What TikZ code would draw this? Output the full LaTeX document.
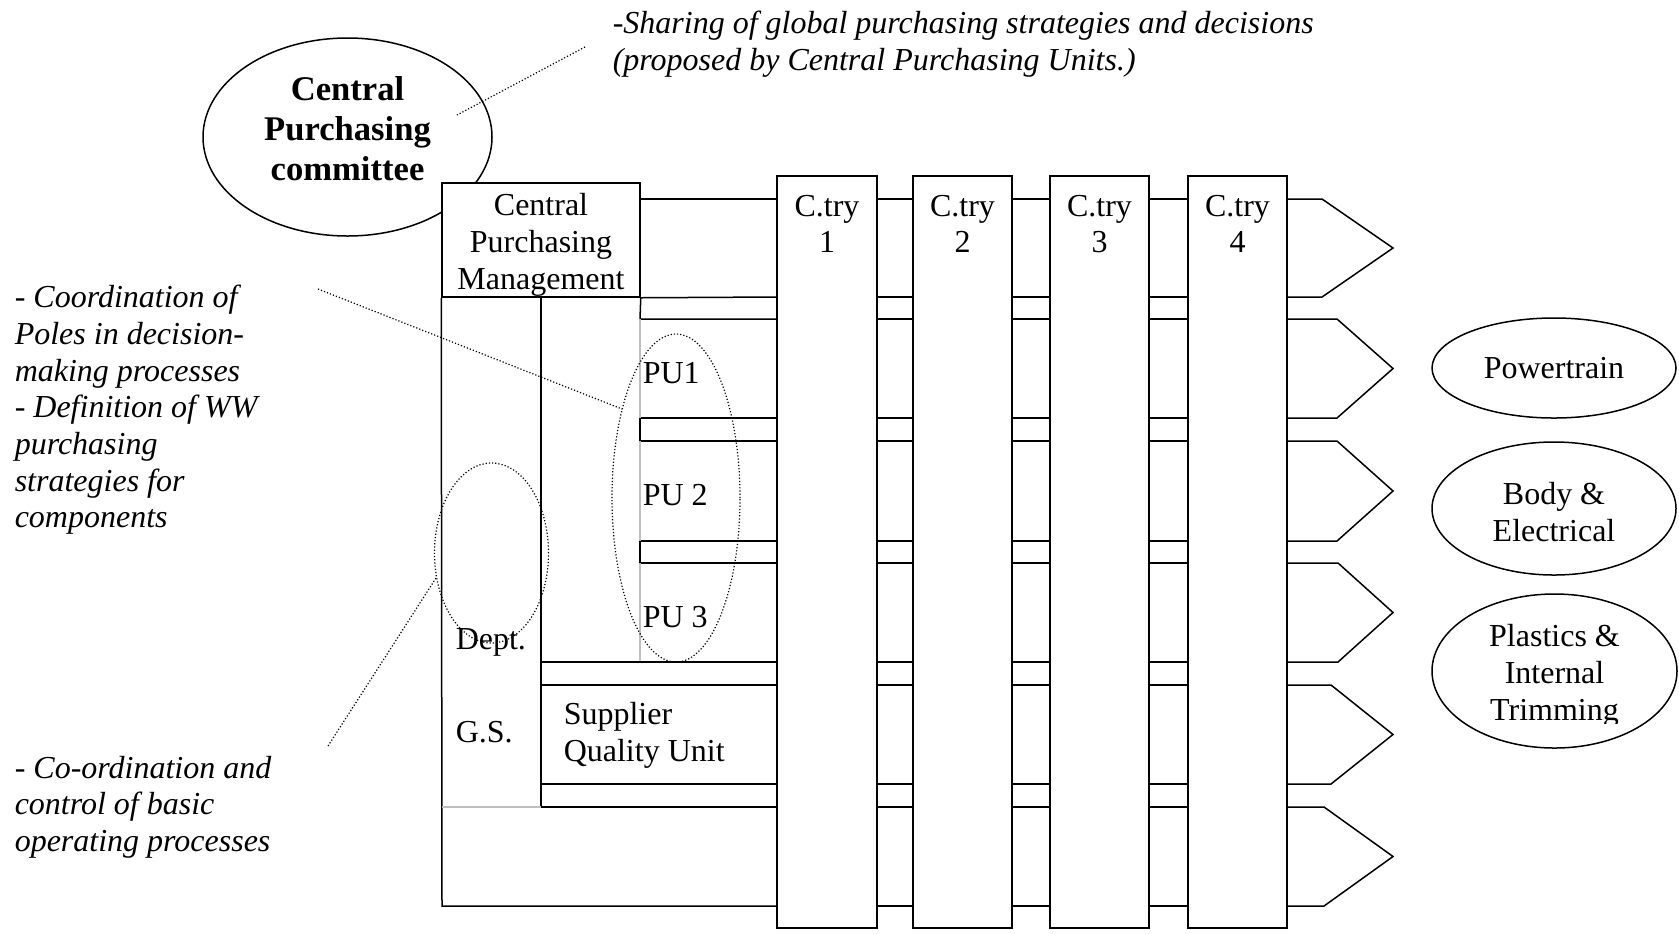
\documentclass[tikz,border=0pt]{standalone}
\usepackage{fontspec}
\setmainfont{Liberation Serif}
\usetikzlibrary{shapes.geometric}

\begin{document}
\begin{tikzpicture}[x=0.5pt,y=-0.5pt,line width=0.75pt,
  txt/.style={font=\fontsize{16}{18.35}\selectfont, inner sep=0pt, align=center},
  note/.style={font=\fontsize{16}{18.35}\selectfont\itshape, inner sep=0pt, align=left, anchor=west},
  boxed/.style={draw, rectangle, inner sep=0pt},
  oval/.style={draw, ellipse, inner sep=0pt},
  dots/.style={line width=0.6pt, dash pattern=on 0.6pt off 1pt},
  grayline/.style={draw=black!25, line width=0.75pt}]
\useasboundingbox (0,0) rectangle (1679,933);

% committee oval, partly covered by the management box
\node[oval, minimum width=144.5pt, minimum height=99pt] (cpc) at (347.5,137) {};
\node[txt, font=\fontsize{17.3}{20}\selectfont\bfseries] (cpct) at (347.5,129) {Central\\Purchasing\\committee};

% country columns
\node[boxed, minimum width=50pt, minimum height=376pt] (c1) at (827,552) {};
\node[boxed, minimum width=49.5pt, minimum height=376pt] (c2) at (962.5,552) {};
\node[boxed, minimum width=49.5pt, minimum height=376pt] (c3) at (1099.5,552) {};
\node[boxed, minimum width=49.5pt, minimum height=376pt] (c4) at (1237.5,552) {};
\node[txt] (c1t) at (c1.center |- 0,224) {C.try\\1};
\node[txt] (c2t) at (c2.center |- 0,224) {C.try\\2};
\node[txt] (c3t) at (c3.center |- 0,224) {C.try\\3};
\node[txt] (c4t) at (c4.center |- 0,224) {C.try\\4};

% band edges running through the gaps between the columns
\foreach \y in {199,297,319,418,441,541,563,662,685,784,807,906} {
  \draw (c1.east |- 0,\y) -- (c2.west |- 0,\y);
  \draw (c2.east |- 0,\y) -- (c3.west |- 0,\y);
  \draw (c3.east |- 0,\y) -- (c4.west |- 0,\y);
}

% arrow heads of the bands
\foreach \t/\u/\s in {199/297/1322, 319/418/1337, 441/541/1337, 563/662/1338, 685/784/1331, 807/906/1324}
  \draw (c4.east |- 0,\t) -- (\s,\t) -- (1393,{(\t+\u)/2}) -- (\s,\u) -- (c4.east |- 0,\u);

% central purchasing management and the left-hand structure
\node[boxed, fill=white, minimum width=99pt, minimum height=57pt] (cpm) at (541,240) {};
\node[txt] (cpmt) at (541,245) {Central\\Purchasing\\Management};
\draw (cpm.east |- 0,199) -- (c1.west |- 0,199);
\draw (cpm.south east) -- (c1.west |- 0,297);
\draw (cpm.south west) -- (442,906) -- (c1.west |- 0,906);
\draw (cpm.south) -- (541,807);
\draw (cpm.south east) -- (640,319) -- (c1.west |- 0,319);
\draw (c1.west |- 0,418) -- (640,418) -- (640,441) -- (c1.west |- 0,441);
\draw (c1.west |- 0,541) -- (640,541) -- (640,563) -- (c1.west |- 0,563);
\draw[grayline] (640,319) -- (640,418) (640,441) -- (640,541) (640,563) -- (640,662);
\draw (541,662) -- (c1.west |- 0,662);
\node[boxed, minimum width=118pt, minimum height=49.5pt] (squ) at (659,734.5) {};
\draw (541,807) -- (c1.west |- 0,807);
\draw[grayline] (442,807) -- (541,807);

% texts of the units
\node[txt, anchor=west] (pu1) at (642,373) {PU1};
\node[txt, anchor=west] (pu2) at (642,495) {PU 2};
\node[txt, anchor=west] (pu3) at (642,617) {PU 3};
\node[txt, anchor=west] (dept) at (455,642) {Dept.};
\node[txt, anchor=west] (gs) at (455,732) {G.S.};
\node[txt, align=left, anchor=west] (squt) at (563,735) {Supplier\\Quality Unit};

% dotted groupings
\node[oval, dots, minimum width=64pt, minimum height=164pt] (pugrp) at (676,498) {};
\node[oval, dots, minimum width=57pt, minimum height=90pt] (deptgrp) at (491.5,553) {};

% divisions
\node[oval, minimum width=122pt, minimum height=50pt, txt] (pt) at (1554,368) {Powertrain};
\node[oval, minimum width=122pt, minimum height=66.5pt] (be) at (1554,508.5) {};
\node[txt] (bet) at (1554,512) {Body \&\\Electrical};
\node[oval, minimum width=122.5pt, minimum height=77pt] (pit) at (1554.5,671) {};
\begin{scope}
  \clip (1420,585) rectangle (1679,723);
  \node[txt] (pitt) at (1554.5,676) {Plastics \&\\Internal\\Trimming};
\end{scope}

% notes
\node[note] (sharing) at (612,44) {-Sharing of global purchasing strategies and decisions\\(proposed by Central Purchasing Units.)};
\node[note] (coord) at (14,410) {- Coordination of\\Poles in decision-\\making processes\\- Definition of WW\\purchasing\\strategies for\\components};
\node[note] (control) at (14,807) {- Co-ordination and\\control of basic\\operating processes};

% dotted leaders
\coordinate (sharingend) at (585,47);
\coordinate (cpcin) at (457,115);
\coordinate (coordend) at (318,289);
\coordinate (puedge) at (622,409);
\coordinate (controlend) at (328,746);
\coordinate (deptedge) at (436,578);
\draw[dots] (sharingend) -- (cpcin);
\draw[dots] (coordend) -- (puedge);
\draw[dots] (controlend) -- (deptedge);
\end{tikzpicture}
\end{document}
